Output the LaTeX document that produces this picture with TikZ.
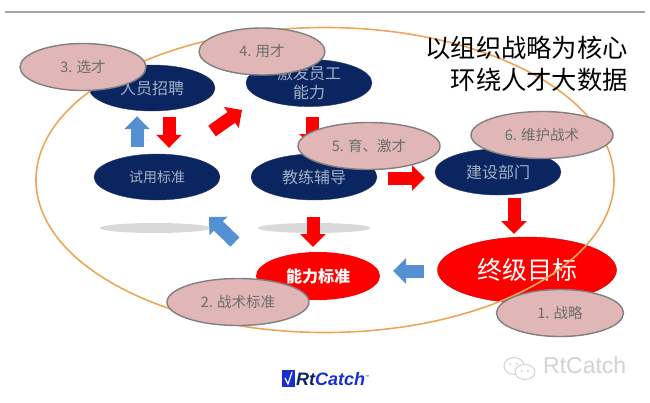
\documentclass[tikz,border=0pt]{standalone}
\usepackage{fontspec}
\setmainfont{Noto Sans CJK SC}
\newfontfamily\logofont{Liberation Sans}
\usepackage{xcolor}
\usetikzlibrary{arrows.meta,shapes.geometric}
\definecolor{navyfill}{HTML}{0B2560}
\definecolor{navytext}{HTML}{A3B1C6}
\definecolor{tagfill}{HTML}{E0B6B6}
\definecolor{tagedge}{HTML}{808080}
\definecolor{ringline}{HTML}{EDA658}
\definecolor{bluearrow}{HTML}{5490D2}
\definecolor{logoblue}{HTML}{1A2FD0}
\tikzset{
  navynode/.style={ellipse, fill=navyfill, draw=navyfill!70!gray, inner sep=0pt, minimum width=126pt, minimum height=46pt, align=center, text=navytext, font=\fontsize{16}{18.5}\selectfont},
  rednode/.style={ellipse, fill=red, inner sep=0pt, minimum width=124pt, minimum height=48pt, align=center, text=white, font=\fontsize{16}{18}\selectfont},
  tagnode/.style={ellipse, fill=tagfill, draw=tagedge, line width=1.4pt, inner sep=0pt, minimum width=142pt, minimum height=47pt, text=tagedge!85!black, font=\fontsize{14.5}{16}\selectfont},
  shadownode/.style={ellipse, fill=gray!30, inner sep=0pt, minimum width=111pt, minimum height=10pt},
  redline/.style={-{Triangle[length=13pt,width=25pt]}, line width=13pt, red},
  blueline/.style={-{Triangle[length=13pt,width=25pt]}, line width=13pt, bluearrow}
}
\begin{document}
\begin{tikzpicture}[x=1pt,y=-1pt]
  \useasboundingbox (0,0) rectangle (650,402);
  \coordinate (ruleleft) at (5,12);
  \coordinate (ruleright) at (645,12);
  \draw[gray!70, line width=1.4pt] (ruleleft) -- (ruleright);
  \node[shadownode] (shadowa) at (155,228) {};
  \node[shadownode, minimum width=113pt] (shadowb) at (314,228) {};
  \node[navynode] (hire) at (152,88) {人员招聘};
  \node[navynode] (motivate) at (309,83) {激发员工\\能力};
  \node[navynode, font=\fontsize{14}{16}\selectfont] (trial) at (157,177) {试用标准};
  \node[navynode] (coach) at (314,177) {教练辅导};
  \node[navynode] (dept) at (498,172) {建设部门};
  \node[rednode] (ability) at (318,276) {\textbf{能力标准}};
  \node[rednode, minimum width=179pt, minimum height=66pt, font=\fontsize{25}{28}\selectfont, draw=red!75!black] (goal) at (527,270) {终级目标};
  \draw[blueline] ([shift={(-20,-7)}]trial.north) -- ([shift={(-15,5)}]hire.south);
  \draw[redline] ([shift={(17,6)}]hire.south) -- ([shift={(12,-6)}]trial.north);
  \draw[redline] ([shift={(55,-46)}]trial.center) -- ([shift={(-67,27)}]motivate.center);
  \draw[redline] ([shift={(3,34)}]motivate.center) -- ([shift={(-2,-30)}]coach.center);
  \draw[redline] ([shift={(74,1)}]coach.center) -- ([shift={(-73,6)}]dept.center);
  \draw[redline] ([shift={(-1,40)}]coach.center) -- ([shift={(-5,-29)}]ability.center);
  \draw[redline] ([shift={(16,26)}]dept.center) -- ([shift={(-13,-36)}]goal.center);
  \draw[blueline] ([shift={(-103,1)}]goal.center) -- ([shift={(75,-5)}]ability.center);
  \draw[blueline] ([shift={(-83,-34)}]ability.center) -- ([shift={(52,40)}]trial.center);
  \node[ellipse, draw=ringline, line width=1.6pt, inner sep=0pt, minimum width=578pt, minimum height=305pt] (ring) at (325,180) {};
  \node[tagnode, minimum width=126pt] (tagthree) at (83,67) {3. 选才};
  \node[tagnode, minimum width=126pt] (tagfour) at (262,51.5) {4. 用才};
  \node[tagnode] (tagfive) at (369,146) {5. 育、激才};
  \node[tagnode] (tagsix) at (542,135) {6. 维护战术};
  \node[tagnode] (tagtwo) at (238,302) {2. 战术标准};
  \node[tagnode, minimum width=127pt] (tagone) at (560,313) {1. 战略};
  \node[anchor=east, align=right, inner sep=0pt, font=\fontsize{25.3}{32}\selectfont] (title) at (628,64) {以组织战略为核心\\环绕人才大数据};
  % logo
  \fill[logoblue] (282,370) rectangle (295,387);
  \draw[white, line width=1.2pt] (285,378) -- (288,384) -- (292,372);
  \node[anchor=west, inner sep=0pt, text=logoblue, font=\logofont\bfseries\itshape\fontsize{18}{18}\selectfont] (logotext) at (296,379) {\textcolor{navyfill}{Rt}Catch\raisebox{7pt}{\fontsize{4}{4}\selectfont ™}};
  % watermark
  \draw[gray!35, line width=1pt, fill=white] (514,366) ellipse (10 and 8.5);
  \draw[gray!35, line width=1pt, fill=white] (525,372) ellipse (10 and 7.5);
  \fill[gray!35] (510,364) circle (1.2) (517,364) circle (1.2) (522,371) circle (1.1) (528,371) circle (1.1);
  \node[anchor=west, inner sep=0pt, text=gray!35, font=\logofont\fontsize{23}{23}\selectfont] (wmark) at (543,365) {RtCatch};
\end{tikzpicture}
\end{document}
